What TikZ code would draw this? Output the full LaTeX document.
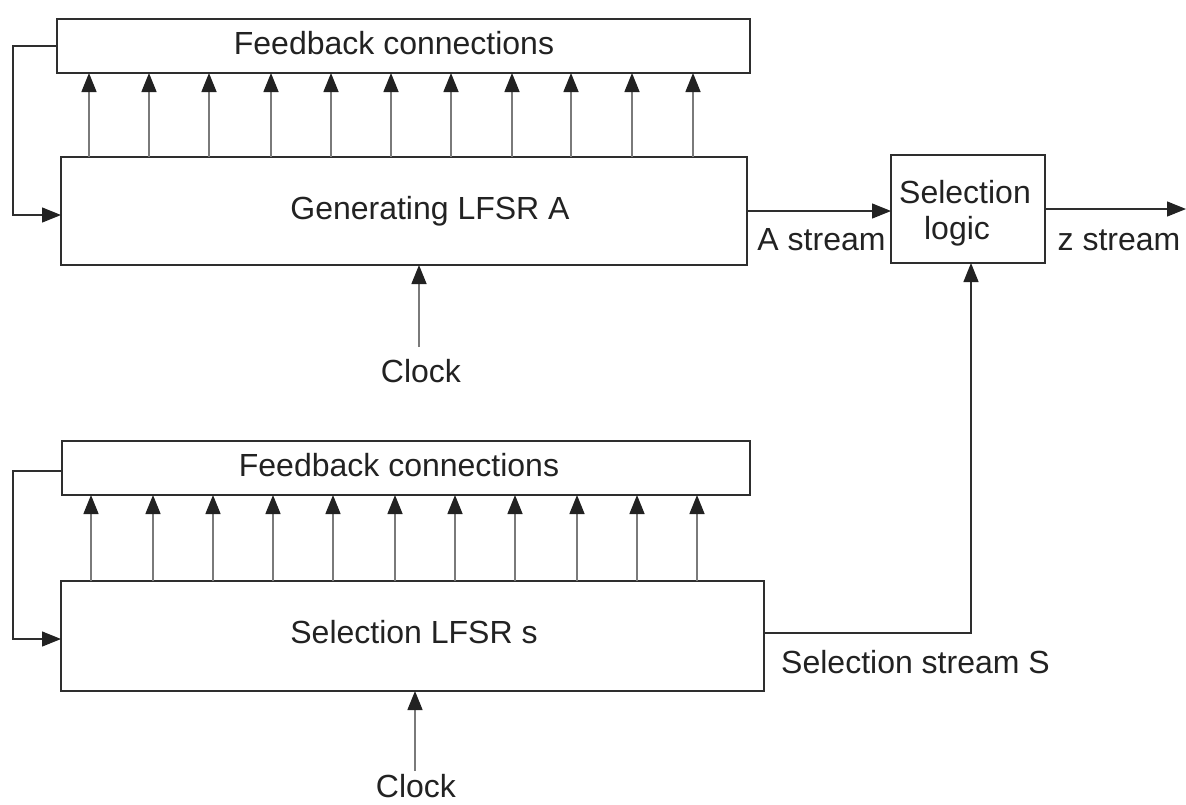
\documentclass[tikz,border=0pt]{standalone}
\usepackage{fontspec}
\setmainfont{Liberation Sans}
\usetikzlibrary{arrows.meta}
\definecolor{ink}{HTML}{222222}
\definecolor{linecol}{HTML}{2E2E2E}
\definecolor{tapcol}{HTML}{7A7A7A}
\tikzset{
  box/.style={draw=linecol, line width=1.3pt, rectangle, inner sep=0pt, outer sep=0pt},
  txt/.style={text=ink, font=\fontsize{32}{37}\selectfont, inner sep=0pt, anchor=base},
  conn/.style={draw=linecol, line width=1.3pt, -{Triangle[length=19pt,width=15pt,color=ink]}},
  tap/.style={draw=tapcol, line width=1.5pt, -{Triangle[length=19pt,width=15pt,color=ink]}}
}
\begin{document}
\begin{tikzpicture}[x=1pt,y=-1pt]
\useasboundingbox (0,0) rectangle (1186,804);
% boxes
\node[box, minimum width=693pt, minimum height=54pt] (fbA) at (403.5,46) {};
\node[box, minimum width=686pt, minimum height=108pt] (genA) at (404,211) {};
\node[box, minimum width=154pt, minimum height=108pt] (sel) at (968,209) {};
\node[box, minimum width=688pt, minimum height=54pt] (fbS) at (406,468) {};
\node[box, minimum width=703pt, minimum height=110pt] (selS) at (412.5,636) {};
% texts
\node[txt] (tfbA) at (394,54) {Feedback connections};
\node[txt] (tgenA) at (430,219) {Generating LFSR A};
\node[txt] (tsel1) at (965,203) {Selection};
\node[txt] (tsel2) at (957,239) {logic};
\node[txt] (tfbS) at (399,476) {Feedback connections};
\node[txt] (tselS) at (414,643) {Selection LFSR s};
\node[txt] (tAs) at (821.5,250) {A stream};
\node[txt] (tzs) at (1119,250) {z stream};
\node[txt] (tss) at (915.5,673) {Selection stream S};
\node[txt] (clkA) at (421,382) {Clock};
\node[txt] (clkS) at (416,797) {Clock};
% clock arrows
\coordinate (clkAtop) at (419,347);
\coordinate (clkStop) at (415,771);
\draw[tap] (clkAtop) -- (clkAtop |- genA.south);
\draw[tap] (clkStop) -- (clkStop |- selS.south);
% tap arrows, register A
\foreach \x in {89,149,209,271,331,391,451,512,571,632,693}{
  \draw[tap] (genA.north -| \x,0) -- (fbA.south -| \x,0);
}
% tap arrows, register S
\foreach \x in {91,153,213,273,333,395,455,515,577,637,697}{
  \draw[tap] (selS.north -| \x,0) -- (fbS.south -| \x,0);
}
% feedback loops
\coordinate (loopA) at (13,46);
\draw[conn] (fbA.west) -- (loopA) |- ([yshift=-4pt]genA.west);
\coordinate (loopS) at (13,471);
\draw[conn] ([yshift=-3pt]fbS.west) -- (loopS) |- ([yshift=-3pt]selS.west);
% streams
\draw[conn] (genA.east) -- (genA.east -| sel.west);
\coordinate (zend) at (1186,209);
\draw[conn] (sel.east) -- (zend);
\draw[conn] ([yshift=3pt]selS.east) -| ([xshift=3pt]sel.south);
\end{tikzpicture}
\end{document}
